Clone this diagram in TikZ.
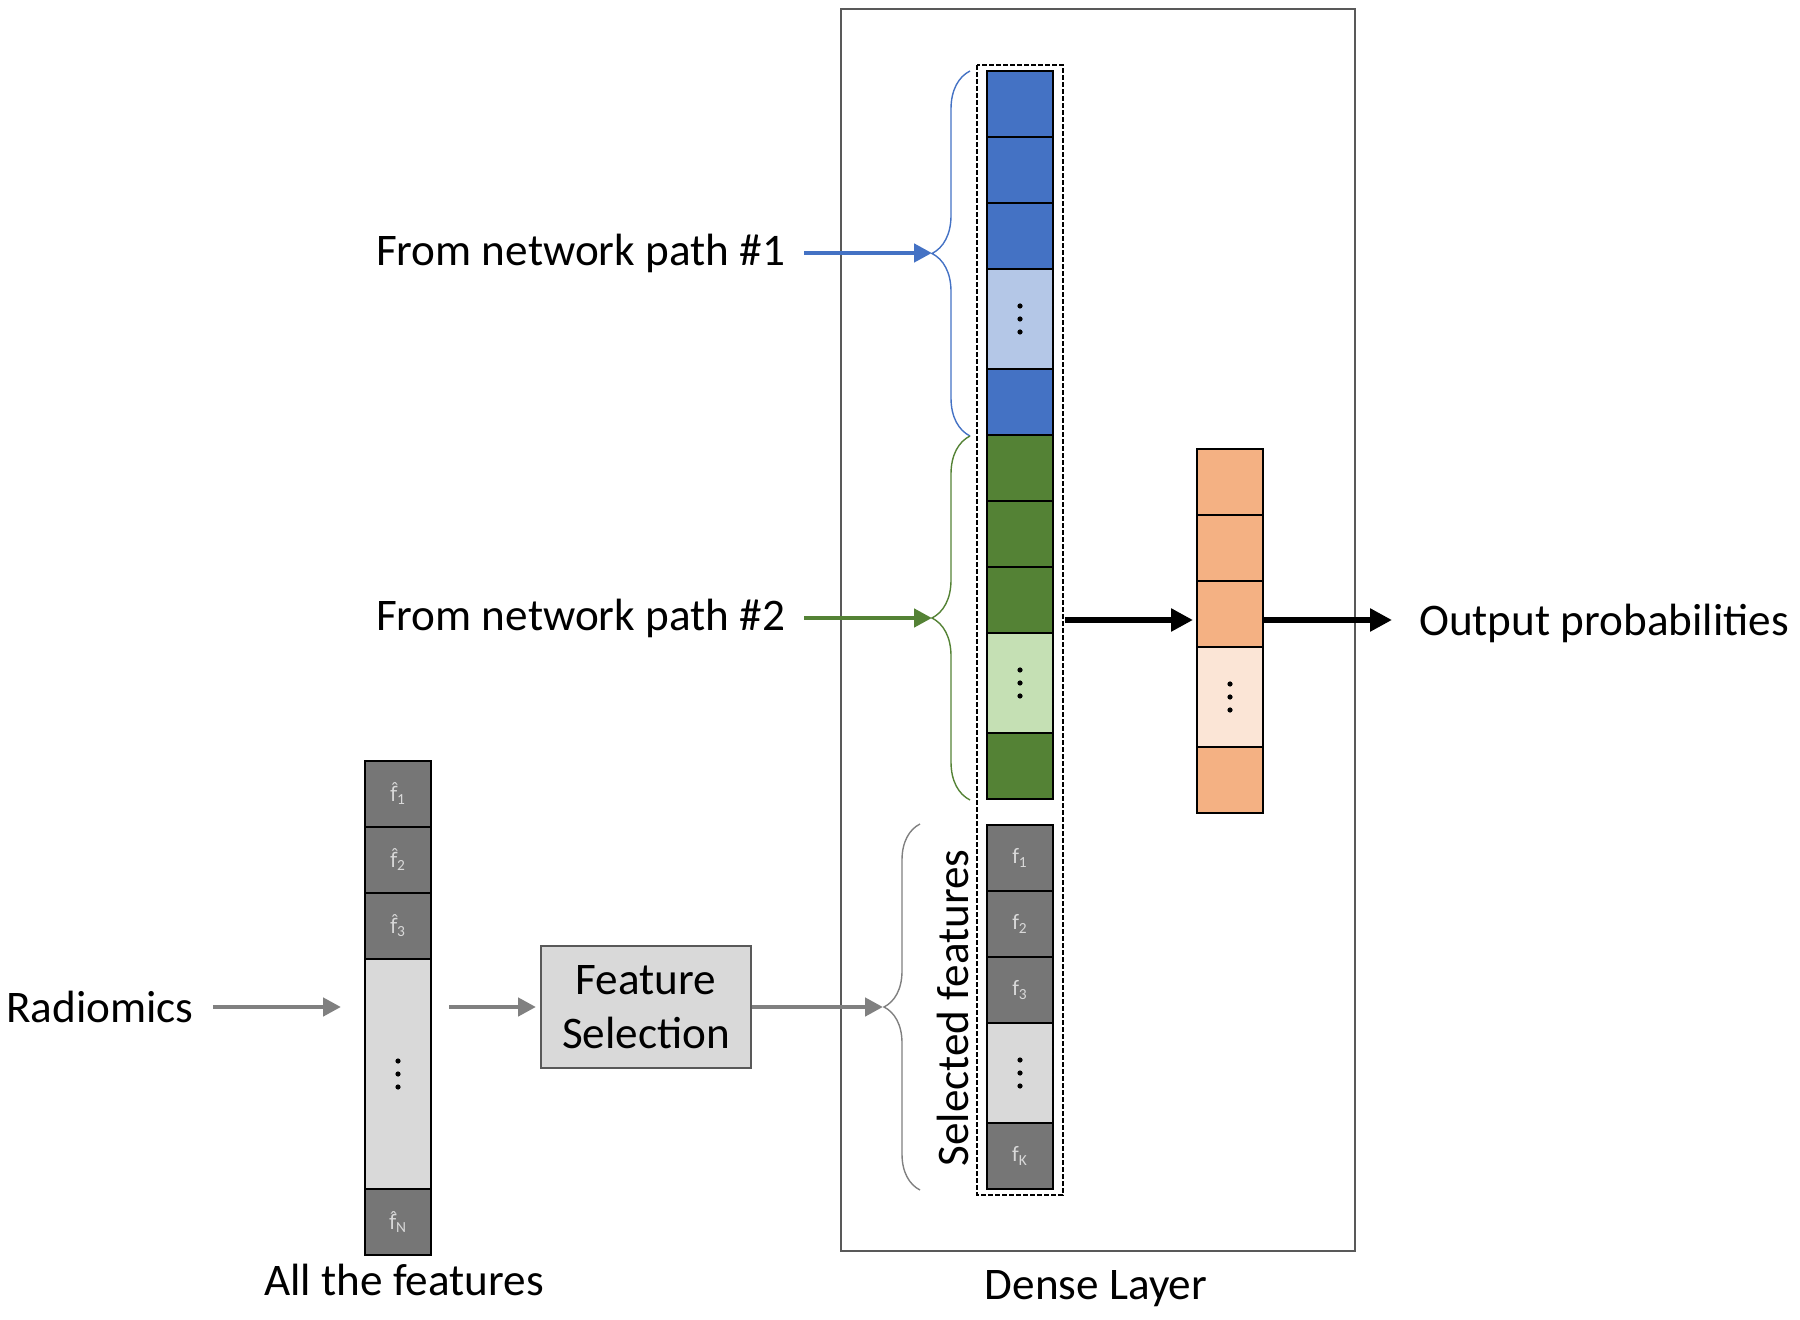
\documentclass[tikz,border=0pt]{standalone}
\usepackage{fontspec}
\setmainfont{Carlito}
\newfontfamily\hatfont{DejaVu Sans}
\usetikzlibrary{arrows.meta}
\usetikzlibrary{positioning}
\usetikzlibrary{decorations.pathreplacing}

\definecolor{pathblue}{HTML}{4472C4}
\definecolor{lightblue}{HTML}{B4C7E7}
\definecolor{pathgreen}{HTML}{548235}
\definecolor{lightgreen}{HTML}{C5E0B4}
\definecolor{outorange}{HTML}{F4B183}
\definecolor{lightorange}{HTML}{FBE5D6}
\definecolor{featgray}{HTML}{767676}
\definecolor{palegray}{HTML}{D9D9D9}
\definecolor{arrowgray}{HTML}{808080}
\definecolor{boxgray}{HTML}{595959}

\newcommand{\hatf}{{\hatfont\fontsize{10}{12}\selectfont f̂}}

\tikzset{
  cell/.style={draw=black, line width=0.6pt, minimum width=33pt, minimum height=33pt,
    inner sep=0pt, outer sep=0pt},
  dotcell/.style={cell, minimum height=50pt},
  fcell/.style={cell, fill=featgray, text=palegray, font=\fontsize{11}{12}\selectfont},
  grayarrow/.style={draw=arrowgray, line width=2.4pt, -{Triangle[length=9pt,width=9pt]}},
  colarrow/.style={line width=2.4pt, -{Triangle[length=9pt,width=9pt]}},
  blackarrow/.style={draw=black, line width=3pt, -{Triangle[length=11pt,width=11pt]}},
  bracket/.style={decorate, decoration={brace, amplitude=19pt}, line width=0.7pt},
}

\begin{document}
\begin{tikzpicture}[x=0.5pt, y=-0.5pt, font=\fontsize{22.6}{27}\selectfont]
\useasboundingbox (0,0) rectangle (1800,1320);

% dense layer frame
\draw[boxgray, line width=1pt] (841,9) rectangle (1355,1251);
\node (dense) at (1096,1289) {Dense Layer};

% concatenated vector
\node[cell, fill=pathblue, anchor=north] (b1) at (1020,71) {};
\node[cell, fill=pathblue, below=0pt of b1] (b2) {};
\node[cell, fill=pathblue, below=0pt of b2] (b3) {};
\node[dotcell, fill=lightblue, below=0pt of b3] (b4) {};
\node[cell, fill=pathblue, below=0pt of b4] (b5) {};
\node[cell, fill=pathgreen, below=0pt of b5] (g1) {};
\node[cell, fill=pathgreen, below=0pt of g1] (g2) {};
\node[cell, fill=pathgreen, below=0pt of g2] (g3) {};
\node[dotcell, fill=lightgreen, below=0pt of g3] (g4) {};
\node[cell, fill=pathgreen, below=0pt of g4] (g5) {};
\node[fcell, anchor=north] (s1) at (1020,825) {f\textsubscript{1}};
\node[fcell, below=0pt of s1] (s2) {f\textsubscript{2}};
\node[fcell, below=0pt of s2] (s3) {f\textsubscript{3}};
\node[dotcell, fill=palegray, below=0pt of s3] (s4) {};
\node[fcell, below=0pt of s4] (s5) {f\textsubscript{K}};
\draw[dashed, line width=1.2pt, dash pattern=on 2.5pt off 1pt] (977,65) rectangle (1063,1195);
\coordinate (concat) at (1063,620);

% output vector
\node[cell, fill=outorange, anchor=north] (o1) at (1230,449) {};
\node[cell, fill=outorange, below=0pt of o1] (o2) {};
\node[cell, fill=outorange, below=0pt of o2] (o3) {};
\node[dotcell, fill=lightorange, below=0pt of o3] (o4) {};
\node[cell, fill=outorange, below=0pt of o4] (o5) {};
\node[anchor=west] (out) at (1412,623) {Output probabilities};

% all the features
\node[fcell, anchor=north] (a1) at (398,761) {\hatf\textsubscript{1}};
\node[fcell, below=0pt of a1] (a2) {\hatf\textsubscript{2}};
\node[fcell, below=0pt of a2] (a3) {\hatf\textsubscript{3}};
\node[cell, fill=palegray, minimum height=115pt, below=0pt of a3] (a4) {};
\node[fcell, below=0pt of a4] (a5) {\hatf\textsubscript{N}};
\node (all) at (404,1280) {All the features};

\node (radio) at (100,1007) {Radiomics};
\node[draw=boxgray, line width=1pt, fill=palegray, minimum width=105pt, minimum height=61pt,
  align=center, inner sep=2pt] (fs) at (646,1007) {Feature\\Selection};

% dots
\foreach \c in {b4,g4,s4,o4,a4}
  \foreach \d in {-13,0,13}
    \fill ([yshift=\d*0.5pt]\c.center) circle (1.3pt);

% braces
\draw[bracket, pathblue] (970,436) -- (970,71);
\draw[bracket, pathgreen] (970,800) -- (970,436);
\draw[bracket, arrowgray, decoration={amplitude=18pt}] (920,1190) -- (920,824);
\coordinate (tip1) at (932,253);
\coordinate (tip2) at (932,618);
\coordinate (tip3) at (883,1007);
\node[rotate=90] (sel) at (953,1008) {Selected features};

\node[anchor=east] (path1) at (792,253) {From network path \#1};
\node[anchor=east] (path2) at (792,618) {From network path \#2};

% arrows
\draw[colarrow, pathblue, shorten <=6pt] (path1.east) -- (tip1);
\draw[colarrow, pathgreen, shorten <=6pt] (path2.east) -- (tip2);
\draw[grayarrow, shorten <=6pt, shorten >=12pt] (radio.east) -- (a4.west |- radio);
\draw[grayarrow, shorten <=9pt, shorten >=2pt] (a4.east |- fs) -- (fs.west);
\draw[grayarrow] (fs.east) -- (tip3);
\draw[blackarrow, shorten <=1pt, shorten >=2pt] (concat) -- (o3.west |- concat);
\draw[blackarrow, shorten >=10pt] (o3.east |- concat) -- (out.west |- concat);
\end{tikzpicture}
\end{document}
